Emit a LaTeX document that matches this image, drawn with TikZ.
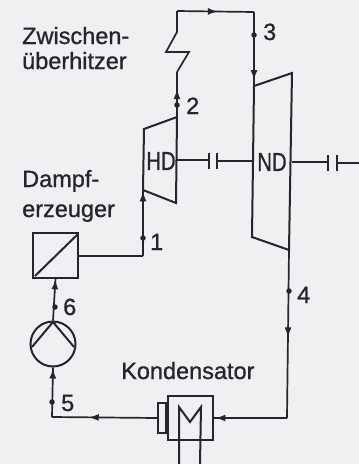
\documentclass[tikz,border=0pt]{standalone}
\usepackage{fontspec}
\setmainfont{Liberation Sans}[RawFeature={embolden=0.9}]
\usetikzlibrary{arrows.meta,decorations.markings}
\definecolor{paper}{HTML}{F0F0F2}
\definecolor{ink}{HTML}{26262A}
\tikzset{
  pipe/.style={draw=ink,line width=1.7pt,line join=miter},
  body/.style={draw=ink,line width=2pt,line join=miter},
  thin shaft/.style={draw=ink,line width=1.3pt},
  flowmark/.style={postaction={decorate},decoration={markings,
    mark=at position #1 with {\arrow{Latex[length=10pt,width=7pt,color=ink]}}}},
  statedot/.style={circle,fill=ink,inner sep=0pt,minimum size=5.5pt},
  txt/.style={text=ink,font=\fontsize{23.5}{26}\selectfont,inner sep=0pt,anchor=base west},
  mach/.style={text=ink,font=\fontsize{26}{28}\selectfont,inner sep=0pt,xscale=0.78}
}
\begin{document}
\begin{tikzpicture}[x=1pt,y=-1pt]
\useasboundingbox (0,0) rectangle (359,464);
\fill[paper] (0,0) rectangle (359,464);

% key points
\coordinate (hdInTop) at (144,129);
\coordinate (hdIn) at (143,190);
\coordinate (hdOutTop) at (177,117);
\coordinate (hdOutBot) at (176,203);
\coordinate (ndInTop) at (254,86);
\coordinate (ndTopR) at (292,73);
\coordinate (ndBotR) at (289,250);
\coordinate (ndBotL) at (252,237);
\coordinate (rhA) at (177,72);
\coordinate (rhB) at (189,52);
\coordinate (rhC) at (166,52);
\coordinate (rhD) at (177,32);
\coordinate (topL) at (177,11);
\coordinate (topR) at (254,12);
\coordinate (cornerR) at (287,418);
\coordinate (cornerL) at (52,417);
\coordinate (boilerOut) at (78,256);
\coordinate (boilerCorner) at (143,256);

% turbines
\draw[body] (hdIn) -- (hdInTop) -- (hdOutTop) -- (hdOutBot) -- cycle;
\draw[body] (ndInTop) -- (ndTopR) -- (ndBotR) -- (ndBotL) -- cycle;
\node[mach] (hd) at (161,161) {HD};
\node[mach] (nd) at (272,162) {ND};

% boiler
\node[draw=ink,line width=2pt,minimum size=45pt,inner sep=0pt] (boiler) at (55.5,255) {};
\draw[body] (35,276) -- (78,234);

% pump
\node[draw=ink,line width=2pt,circle,minimum size=45pt,inner sep=0pt] (pump) at (53,344) {};
\draw[body] (32,347) -- (53,322) -- (74,347);

% condenser
\node[draw=ink,line width=2pt,minimum width=45pt,minimum height=44pt,inner sep=0pt] (cond) at (190.5,418) {};
\node[draw=ink,line width=2pt,minimum width=8pt,minimum height=30pt,inner sep=0pt,anchor=east] (hot) at (cond.west) {};
\coordinate (mL) at (179,464);
\coordinate (mR) at (200,464);
\draw[body] (mL) -- (179,407) -- (190,422) -- (201,407) -- (mR);

% steam path
\draw[pipe,flowmark=0.62] (hdOutTop) -- (rhA);
\draw[pipe] (rhA) -- (rhB) -- (rhC) -- (rhD) -- (topL) -- ++(0,0);
\draw[pipe,flowmark=0.53] (topL) -- (topR);
\draw[pipe,flowmark=0.92] (topR) -- (ndInTop);
\draw[pipe,flowmark=0.52] (ndBotR) -- (cornerR);
\draw[pipe,flowmark=0.98] (cornerR) -- (cond.east);
\draw[pipe,flowmark=0.65] (hot.west) -- (cornerL);
\draw[pipe,flowmark=0.98] (cornerL) -- (pump.south);
\draw[pipe,flowmark=0.98] (pump.north) -- (boiler.south);
\draw[pipe] (boilerOut) -- (boilerCorner);
\draw[pipe,flowmark=0.98] (boilerCorner) -- (hdIn);

% shafts and couplings
\coordinate (c1a) at (209,160);
\coordinate (c1b) at (217,161);
\coordinate (c2a) at (328,162);
\coordinate (c2b) at (337,163);
\coordinate (shaftEnd) at (359,163);
\draw[thin shaft] (hdOutTop |- c1a) -- (c1a);
\draw[thin shaft] (c1b) -- (ndBotL |- c1b);
\draw[thin shaft] (292,162) -- (c2a);
\draw[thin shaft] (c2b) -- (shaftEnd);
\draw[body] (209,153) -- (209,169) (217,153) -- (217,169);
\draw[body] (328,155) -- (328,171) (337,155) -- (337,171);

% state points
\node[statedot] (p1) at (143,238) {};
\node[statedot] (p2) at (177,105) {};
\node[statedot] (p3) at (254,35) {};
\node[statedot] (p4) at (289,291) {};
\node[statedot] (p5) at (52,402) {};
\node[statedot] (p6) at (55,307) {};
\node[txt] (n1) at (150,250) {1};
\node[txt] (n2) at (186,114) {2};
\node[txt] (n3) at (263,40) {3};
\node[txt] (n4) at (297,303) {4};
\node[txt] (n5) at (61,411) {5};
\node[txt] (n6) at (63,315) {6};

% labels
\node[txt] (zw) at (22,44) {Zwischen-};
\node[txt] (ue) at (22,69) {überhitzer};
\node[txt] (da) at (22,187) {Dampf-};
\node[txt] (er) at (22,217) {erzeuger};
\node[txt] (ko) at (121,379) {Kondensator};
\end{tikzpicture}
\end{document}
